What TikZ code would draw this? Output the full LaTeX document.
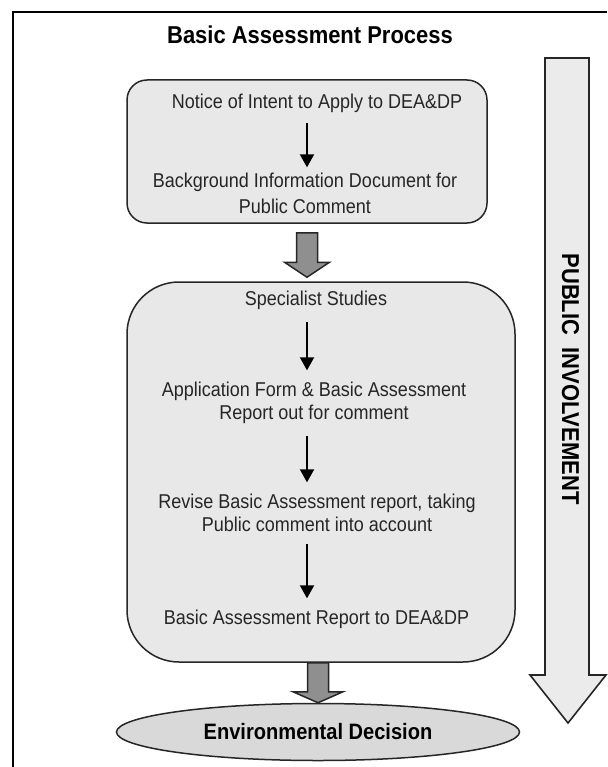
\documentclass[tikz,border=0pt]{standalone}
\usepackage{fontspec}
\setmainfont{Liberation Sans}[FakeStretch=0.9]
\usetikzlibrary{arrows.meta,shapes.geometric,calc}
\definecolor{boxgray}{HTML}{E8E8E8}
\definecolor{sidegray}{HTML}{EBEBEB}
\definecolor{arrowgray}{HTML}{8F8F8F}
\definecolor{decisiongray}{HTML}{D9D9D9}

\begin{document}
\begin{tikzpicture}[x=1pt,y=-1pt]
\tikzstyle{stage} = [draw=black!85, line width=1.5pt, fill=boxgray, inner sep=0pt]
\tikzstyle{steptext} = [anchor=base, align=center, inner sep=0pt, text=black!85, font=\fontsize{20}{23}\selectfont]
\tikzstyle{steparrow} = [-{Triangle[width=14pt,length=13pt]}, line width=2pt, shorten <=13pt, shorten >=11pt]
\tikzstyle{grayarrow} = [draw=black!85, line width=1.5pt, fill=arrowgray, line join=miter]
\useasboundingbox (0,0) rectangle (607,767);
\draw[line width=2pt] (13,767) -- (13,12) -- (607,12);
\node[font=\bfseries\fontsize{24.4}{28}\selectfont, anchor=base] (title) at (310,43.5) {Basic Assessment Process};
\coordinate (spine) at (307,0);

\node[stage, rounded corners=20pt, minimum width=360pt, minimum height=143pt] (stage1) at (307,151.5) {};
\node[steptext] (notice) at (317,109) {Notice of Intent to Apply to DEA\&DP};
\node[steptext, font=\fontsize{20}{26}\selectfont] (background) at (305,214) {Background Information Document for\\Public Comment};
\draw[steparrow, shorten <=10pt, shorten >=6pt] (notice.south -| spine) -- (background.north -| spine);

\node[stage, rounded corners=52pt, minimum width=388pt, minimum height=380pt] (stage2) at (321,472) {};
\node[steptext] (specialist) at (316,305) {Specialist Studies};
\node[steptext] (application) at (314,419) {Application Form \& Basic Assessment\\Report out for comment};
\node[steptext] (revise) at (317,531) {Revise Basic Assessment report, taking\\Public comment into account};
\node[steptext] (report) at (316.5,624) {Basic Assessment Report to DEA\&DP};
\draw[steparrow] (specialist.south -| spine) -- (application.north -| spine);
\draw[steparrow] (application.south -| spine) -- (revise.north -| spine);
\draw[steparrow] (revise.south -| spine) -- (report.north -| spine);

\node[draw=black!85, line width=1.5pt, fill=decisiongray, ellipse, minimum width=403pt, minimum height=57pt, inner sep=0pt, font=\bfseries\fontsize{22.3}{26}\selectfont] (decision) at (318,732) {Environmental Decision};

\draw[grayarrow] let \p1=([yshift=-9pt]stage1.south), \p2=([yshift=4pt]stage2.north) in
  (\x1-10.5pt,\y1) -- (\x1+10.5pt,\y1) -- (\x1+10.5pt,\y2+15pt) -- (\x1+22.5pt,\y2+15pt)
  -- (\x1,\y2) -- (\x1-22.5pt,\y2+15pt) -- (\x1-10.5pt,\y2+15pt) -- cycle;
\draw[grayarrow] let \p1=(stage2.south), \p2=(decision.north) in
  (\x2-10.5pt,\y1) -- (\x2+10.5pt,\y1) -- (\x2+10.5pt,\y2+11pt) -- (\x2+25pt,\y2+11pt)
  -- (\x2,\y2) -- (\x2-25pt,\y2+11pt) -- (\x2-10.5pt,\y2+11pt) -- cycle;

\draw[draw=black!85, line width=1.6pt, fill=sidegray, line join=miter] (545,58) -- (589,58) -- (589,675) -- (606,675) -- (568,723) -- (530,675) -- (545,675) -- cycle;
\node[rotate=-90, anchor=base, inner sep=0pt, font=\bfseries\fontsize{24.4}{28}\selectfont] (involve) at (562,379) {PUBLIC~~INVOLVEMENT};
\end{tikzpicture}
\end{document}
